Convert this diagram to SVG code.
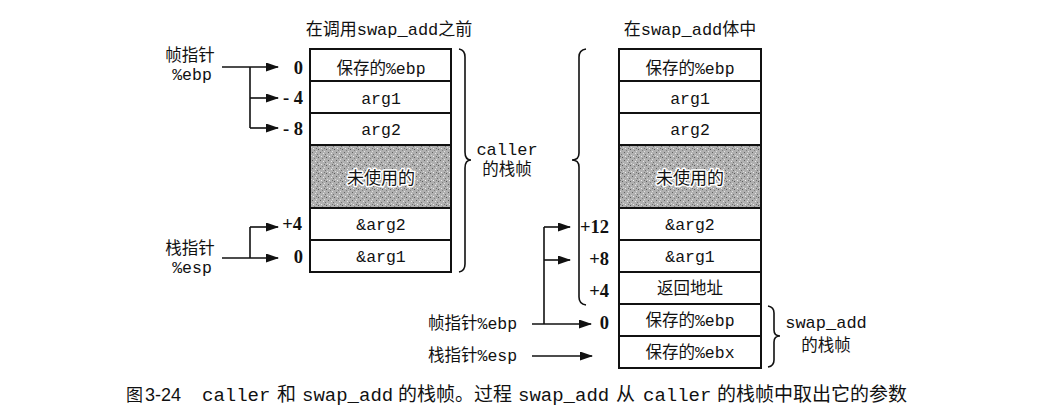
<svg xmlns="http://www.w3.org/2000/svg" width="1038" height="414" viewBox="0 0 1038 414">
<defs>
<pattern id="noise" width="8" height="8" patternUnits="userSpaceOnUse">
<rect width="8" height="8" fill="#b0b0b0"/>
<rect x="0" y="0" width="1" height="1" fill="#606060"/>
<rect x="3" y="1" width="1" height="1" fill="#e6e6e6"/>
<rect x="5" y="2" width="1" height="1" fill="#707070"/>
<rect x="1" y="4" width="1" height="1" fill="#eee"/>
<rect x="6" y="5" width="1" height="1" fill="#5a5a5a"/>
<rect x="2" y="6" width="1" height="1" fill="#808080"/>
<rect x="4" y="7" width="1" height="1" fill="#e0e0e0"/>
<rect x="7" y="3" width="1" height="1" fill="#d8d8d8"/>
<rect x="4" y="4" width="1" height="1" fill="#747474"/>
</pattern>
<marker id="ah" markerUnits="userSpaceOnUse" markerWidth="13" markerHeight="9" refX="12" refY="4.5" orient="auto">
<path d="M0,0 L13,4.5 L0,9 z" fill="#111"/>
</marker>
</defs>
<style>
.box{fill:#fff;stroke:#111;stroke-width:2}
.sep{stroke:#111;stroke-width:2}
.hatch{fill:url(#noise);stroke:none}
.cell{font-family:"Liberation Mono","Noto Sans CJK SC",monospace;font-size:16.5px;fill:#111;text-anchor:middle}
.halo{paint-order:stroke;stroke:#fff;stroke-width:3;stroke-linejoin:round}
.lab{font-family:"Liberation Mono","Noto Sans CJK SC",monospace;font-size:16.5px;fill:#111}
.num{font-family:"Liberation Serif",serif;font-size:18.5px;font-weight:bold;fill:#111;text-anchor:end}
.line{fill:none;stroke:#111;stroke-width:1.6}
.arr{fill:none;stroke:#111;stroke-width:1.6;marker-end:url(#ah)}
.brace{fill:none;stroke:#111;stroke-width:1.6}
.cap{font-family:"Liberation Mono","Noto Sans CJK SC",monospace;font-size:19px;fill:#111}
</style>
<rect width="1038" height="414" fill="#fff"/>

<g id="title-left"><text class="cell" x="389" y="35" style="font-size:17px">在调用swap_add之前</text></g>
<g id="title-right"><text class="cell" x="690" y="35" style="font-size:17px">在swap_add体中</text></g>

<g id="stack-left">
<rect class="box" x="310" y="49" width="141" height="223"/>
<rect class="hatch" x="311" y="146" width="139" height="61"/>
<line class="sep" x1="310" y1="81" x2="451" y2="81"/>
<line class="sep" x1="310" y1="113" x2="451" y2="113"/>
<line class="sep" x1="310" y1="145" x2="451" y2="145"/>
<line class="sep" x1="310" y1="208" x2="451" y2="208"/>
<line class="sep" x1="310" y1="240" x2="451" y2="240"/>
<text class="cell" x="381" y="74">保存的%ebp</text>
<text class="cell" x="381" y="104">arg1</text>
<text class="cell" x="381" y="135">arg2</text>
<text class="cell halo" x="381" y="184" style="font-size:17px">未使用的</text>
<text class="cell" x="381" y="230">&amp;arg2</text>
<text class="cell" x="381" y="262">&amp;arg1</text>
</g>

<g id="stack-right">
<rect class="box" x="619" y="49" width="142" height="319"/>
<rect class="hatch" x="620" y="146" width="140" height="61"/>
<line class="sep" x1="619" y1="81" x2="761" y2="81"/>
<line class="sep" x1="619" y1="113" x2="761" y2="113"/>
<line class="sep" x1="619" y1="145" x2="761" y2="145"/>
<line class="sep" x1="619" y1="208" x2="761" y2="208"/>
<line class="sep" x1="619" y1="240" x2="761" y2="240"/>
<line class="sep" x1="619" y1="272" x2="761" y2="272"/>
<line class="sep" x1="619" y1="304" x2="761" y2="304"/>
<line class="sep" x1="619" y1="336" x2="761" y2="336"/>
<text class="cell" x="690" y="74">保存的%ebp</text>
<text class="cell" x="690" y="104">arg1</text>
<text class="cell" x="690" y="135">arg2</text>
<text class="cell halo" x="690" y="184" style="font-size:17px">未使用的</text>
<text class="cell" x="690" y="230">&amp;arg2</text>
<text class="cell" x="690" y="262">&amp;arg1</text>
<text class="cell" x="690" y="294">返回地址</text>
<text class="cell" x="690" y="326">保存的%ebp</text>
<text class="cell" x="690" y="358">保存的%ebx</text>
</g>

<g id="label-left-ebp">
<text class="lab" x="190" y="61" text-anchor="middle">帧指针</text>
<text class="lab" x="192" y="80" text-anchor="middle">%ebp</text>
</g>
<g id="label-left-esp">
<text class="lab" x="190" y="254" text-anchor="middle">栈指针</text>
<text class="lab" x="192" y="273" text-anchor="middle">%esp</text>
</g>
<g id="label-right-ebp"><text class="lab" x="428" y="329">帧指针%ebp</text></g>
<g id="label-right-esp"><text class="lab" x="428" y="361">栈指针%esp</text></g>

<g id="offsets">
<text class="num" x="303" y="74">0</text>
<text class="num" x="303" y="104">- 4</text>
<text class="num" x="303" y="135">- 8</text>
<text class="num" x="302" y="230">+4</text>
<text class="num" x="303" y="263">0</text>
<text class="num" x="609" y="233">+12</text>
<text class="num" x="609" y="265">+8</text>
<text class="num" x="609" y="297">+4</text>
<text class="num" x="609" y="329">0</text>
</g>

<g id="connectors">
<path class="arr" d="M222,67 H278"/>
<path class="line" d="M250,67 V128"/>
<path class="arr" d="M250,98 H278"/>
<path class="arr" d="M250,128 H278"/>
<path class="arr" d="M222,258 H278"/>
<path class="line" d="M250,258 V227"/>
<path class="arr" d="M250,227 H278"/>
<path class="arr" d="M532,324 H591"/>
<path class="line" d="M544,324 V227"/>
<path class="arr" d="M544,227 H570"/>
<path class="arr" d="M544,260 H570"/>
<path class="arr" d="M532,356 H592"/>
</g>

<g id="brace-caller">
<path class="brace" d="M459,49 Q465,50 465,57 V152 Q465,160 471,160 Q465,160 465,168 V264 Q465,271 459,272"/>
<text class="lab" x="507" y="155" text-anchor="middle" style="font-size:17px">caller</text>
<text class="lab" x="507" y="175" text-anchor="middle">的栈帧</text>
</g>
<g id="brace-callee-args">
<path class="brace" d="M586,49 Q579,50 579,57 V153 Q579,160 572,160 Q579,160 579,167 V297 Q579,304 586,305"/>
</g>
<g id="brace-swapadd">
<path class="brace" d="M768,306 Q774,307 774,313 V330 Q774,336 780,336 Q774,336 774,342 V360 Q774,366 768,367"/>
<text class="lab" x="826" y="328" text-anchor="middle" style="font-size:17px">swap_add</text>
<text class="lab" x="826" y="351" text-anchor="middle">的栈帧</text>
</g>

<g id="caption">
<text class="cap" y="401"><tspan x="126" font-size="17">图</tspan><tspan x="145" font-family="Liberation Sans, sans-serif" font-size="18">3-24</tspan><tspan x="202">caller</tspan><tspan x="277">和</tspan><tspan x="302">swap_add</tspan><tspan x="398">的栈帧。过程</tspan><tspan x="518">swap_add</tspan><tspan x="616">从</tspan><tspan x="643">caller</tspan><tspan x="717">的栈帧中取出它的参数</tspan></text>
</g>
</svg>
